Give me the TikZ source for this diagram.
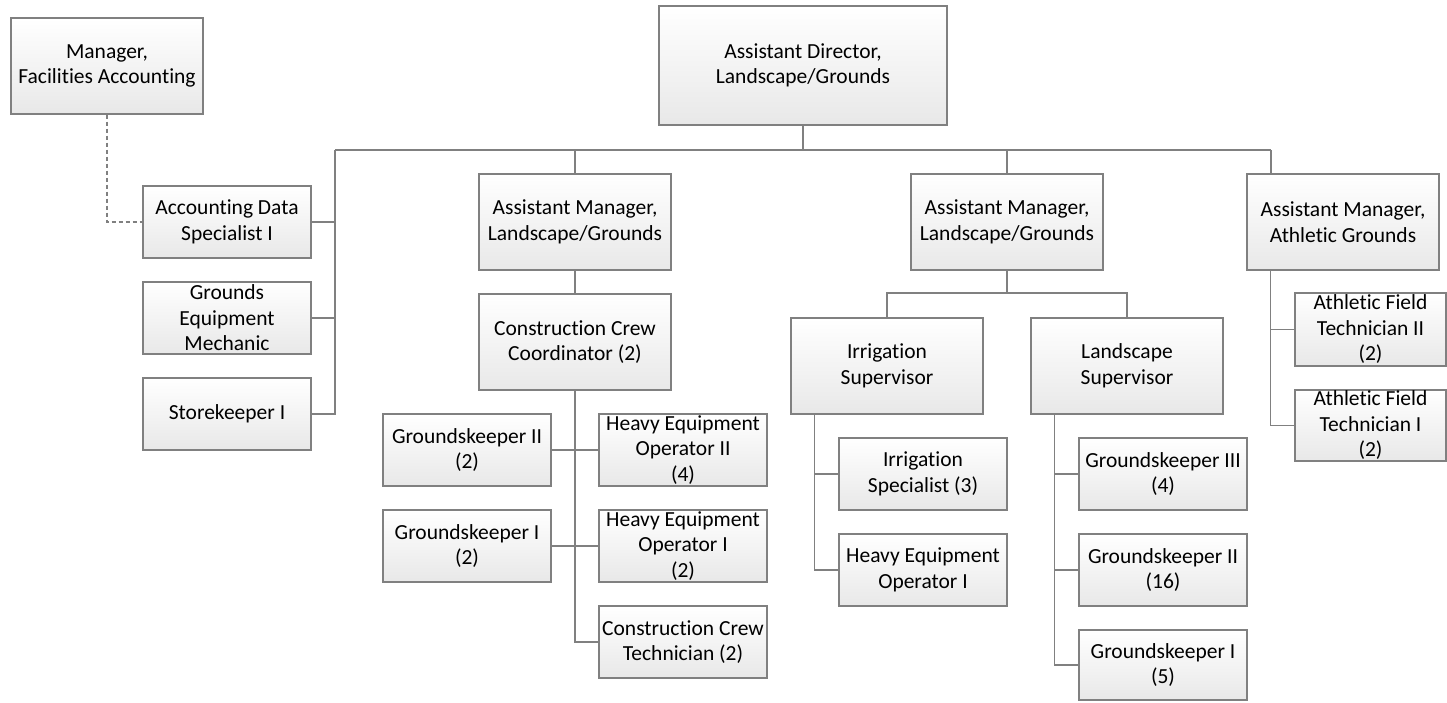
\documentclass[tikz,border=0pt]{standalone}
\usepackage{fontspec}
\setmainfont[Ligatures=NoCommon]{Carlito}
\usetikzlibrary{calc}

\definecolor{edge}{RGB}{128,128,128}
\definecolor{boxbot}{RGB}{232,232,232}

\tikzset{
  post/.style={draw=edge, line width=1.2pt, top color=white, bottom color=boxbot,
    align=center, inner sep=0pt, font=\fontsize{21.5}{25.5}\selectfont},
  bigpost/.style={post, minimum width=192pt, minimum height=96pt},
  smallpost/.style={post, minimum width=168pt, minimum height=72pt},
  link/.style={draw=edge, line width=1.2pt}
}

\begin{document}
\begin{tikzpicture}[x=1pt, y=-1pt]

     \useasboundingbox (0,0) rectangle (1447,702);

     % top of the chart
     \node (AD) at (803, 65.5) [post, minimum width=288pt, minimum height=119pt] {Assistant Director,\\Landscape/Grounds};
     \node (MFA) at (107, 66) [bigpost] {Manager,\\Facilities Accounting};

     % staff on the left
     \node (ADS) at (227, 222) [smallpost] {Accounting Data\\Specialist I};
     \node (GEM) at (227, 318) [smallpost] {Grounds\\Equipment\\Mechanic};
     \node (SK) at (227, 414) [smallpost] {Storekeeper I};

     % assistant managers
     \node (AML) at (575, 222) [bigpost] {Assistant Manager,\\Landscape/Grounds};
     \node (AMR) at (1007, 222) [bigpost] {Assistant Manager,\\Landscape/Grounds};
     \node (AMA) at (1343, 222) [bigpost] {Assistant Manager,\\Athletic Grounds};

     % construction crew
     \node (CCC) at (575, 342) [bigpost] {Construction Crew\\Coordinator (2)};
     \node (GK2) at (467, 450) [smallpost] {Groundskeeper II\\(2)};
     \node (HEO2) at (683, 450) [smallpost] {Heavy Equipment\\Operator II\\(4)};
     \node (GK1) at (467, 546) [smallpost] {Groundskeeper I\\(2)};
     \node (HEO1) at (683, 546) [smallpost] {Heavy Equipment\\Operator I\\(2)};
     \node (CCT) at (683, 642) [smallpost] {Construction Crew\\Technician (2)};

     % supervisors
     \node (IS) at (887, 366) [bigpost] {Irrigation\\Supervisor};
     \node (LS) at (1127, 366) [bigpost] {Landscape\\Supervisor};
     \node (ISP) at (923, 474) [smallpost] {Irrigation\\Specialist (3)};
     \node (HEOR) at (923, 570) [smallpost] {Heavy Equipment\\Operator I};
     \node (GK3R) at (1163, 474) [smallpost] {Groundskeeper III\\(4)};
     \node (GK2R) at (1163, 570) [smallpost] {Groundskeeper II\\(16)};
     \node (GK1R) at (1163, 665) [smallpost, minimum height=70pt] {Groundskeeper I\\(5)};

     % athletic grounds
     \node (AFT2) at (1370.5, 329.5) [post, minimum width=151pt, minimum height=73pt] {Athletic Field\\Technician II\\(2)};
     \node (AFT1) at (1370.5, 425.5) [post, minimum width=151pt, minimum height=71pt] {Athletic Field\\Technician I\\(2)};

     \coordinate (busL) at (335, 150);
     \coordinate (busR) at (1271, 150);
     \coordinate (busM) at (1007, 293);

     \draw [link] (busL) -- (busR);
     \draw [link] (AD) -- (AD |- busL);
     \draw [link] (AML) -- (AML |- busL);
     \draw [link] (AMR) -- (AMR |- busL);
     \draw [link] (busR) -- (AMA.north -| busR);

     \draw [link] (busL) |- (SK);
     \draw [link] (ADS) -- (ADS -| busL);
     \draw [link] (GEM) -- (GEM -| busL);
     \draw [link, dash pattern=on 4pt off 3pt] (MFA) |- (ADS);

     \draw [link] (AML) -- (CCC);
     \draw [link] (CCC) |- (CCT);
     \draw [link] (GK2) -- (HEO2);
     \draw [link] (GK1) -- (HEO1);

     \draw [link] (AMR) -- (busM);
     \draw [link] (IS) |- (busM) -| (LS);
     \draw [link] ([xshift=24pt]IS.south west) |- (ISP);
     \draw [link] ([xshift=24pt]IS.south west) |- (HEOR);
     \draw [link] ([xshift=24pt]LS.south west) |- (GK3R);
     \draw [link] ([xshift=24pt]LS.south west) |- (GK2R);
     \draw [link] ([xshift=24pt]LS.south west) |- (GK1R);

     \draw [link] ([xshift=24pt]AMA.south west) |- (AFT2);
     \draw [link] ([xshift=24pt]AMA.south west) |- (AFT1);

\end{tikzpicture}
\end{document}
